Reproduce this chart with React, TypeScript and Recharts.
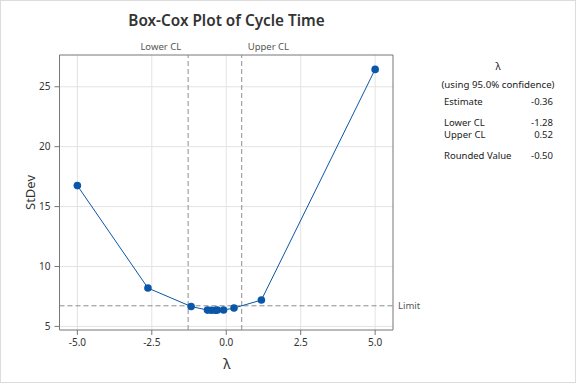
import { CartesianGrid, Line, LineChart, ReferenceArea, ReferenceLine, XAxis, YAxis } from 'recharts';

// Box-Cox search points
const lambdas = [-5, -2.63, -1.18, -0.63, -0.5, -0.37, -0.3, -0.09, 0.26, 1.18, 5];
const stdevs = [16.75, 8.2, 6.66, 6.36, 6.35, 6.35, 6.36, 6.37, 6.53, 7.2, 26.45];

const xTicks = [-5, -2.5, 0, 2.5, 5];
const yTicks = [5, 10, 15, 20, 25];

const lowerCL = -1.28;
const upperCL = 0.52;
const limit = 6.72;

const panelRows = [
  { label: 'Estimate', value: '-0.36', y: 101 },
  { label: 'Lower CL', value: '-1.28', y: 122 },
  { label: 'Upper CL', value: '0.52', y: 134 },
  { label: 'Rounded Value', value: '-0.50', y: 155 },
];

const data = lambdas.map((lambda, i) => ({ lambda, stdev: stdevs[i] }));

const FONT = '"Noto Sans", "Open Sans", sans-serif';
const BLUE = '#0a56a8';
const DASH = '#8c8c8c';

function clLabel(text: string, side: 'left' | 'right') {
  return (props: any) => {
    const { x, y } = props.viewBox;
    return (
      <text
        x={side === 'left' ? x - 7 : x + 6}
        y={y - 5}
        textAnchor={side === 'left' ? 'end' : 'start'}
        fontSize={9.5}
        fill="#555"
        fontFamily={FONT}
      >
        {text}
      </text>
    );
  };
}

export default function App() {
  return (
    <div style={{ position: 'fixed', left: 0, top: 0, width: 576, height: 384, background: '#fff', fontFamily: FONT }}>
      <div style={{ position: 'absolute', left: 0, top: 0, width: 574, height: 381, border: '1px solid #dcdcdc' }} />
      <LineChart
        width={576}
        height={384}
        data={data}
        margin={{ top: 55, right: 183, bottom: 24, left: 0 }}
        style={{ position: 'absolute', left: 0, top: 0 }}
      >
        <CartesianGrid stroke="#e3e3e3" verticalValues={xTicks} horizontalValues={yTicks} />
        <XAxis
          type="number"
          dataKey="lambda"
          domain={[-5.6, 5.6]}
          ticks={xTicks}
          tickFormatter={(v: number) => v.toFixed(1)}
          height={30}
          axisLine={false}
          tickSize={5}
          tickMargin={4}
          tick={{ fontSize: 10, fill: '#333', fontFamily: FONT }}
          tickLine={{ stroke: '#777' }}
        />
        <YAxis
          type="number"
          domain={[4.7, 27.65]}
          ticks={yTicks}
          width={59.5}
          axisLine={false}
          tickSize={5}
          tickMargin={4}
          tick={{ fontSize: 10, fill: '#333', fontFamily: FONT }}
          tickLine={{ stroke: '#777' }}
        />
        <ReferenceArea x1={-5.6} x2={5.6} y1={4.7} y2={27.65} fill="none" stroke="#777" strokeWidth={1} ifOverflow="visible" />
        <ReferenceLine x={lowerCL} stroke={DASH} strokeDasharray="5 3" label={clLabel('Lower CL', 'left')} />
        <ReferenceLine x={upperCL} stroke={DASH} strokeDasharray="5 3" label={clLabel('Upper CL', 'right')} />
        <ReferenceLine
          y={limit}
          stroke={DASH}
          strokeDasharray="5 3"
          label={{ value: 'Limit', position: 'right', offset: 5, fontSize: 9.5, fill: '#555', fontFamily: FONT }}
        />
        <Line
          type="linear"
          dataKey="stdev"
          stroke={BLUE}
          strokeWidth={1}
          dot={{ r: 3.8, fill: BLUE, stroke: BLUE, strokeWidth: 0 }}
          isAnimationActive={false}
        />
      </LineChart>
      <svg width={576} height={384} style={{ position: 'absolute', left: 0, top: 0, pointerEvents: 'none' }} fontFamily={FONT}>
        <text x={226.5} y={26} textAnchor="middle" fontSize={15.3} fontWeight={600} fill="#333">
          Box-Cox Plot of Cycle Time
        </text>
        <text x={30} y={192.5} textAnchor="middle" dominantBaseline="central" fontSize={13} fill="#333" transform="rotate(-90 30 192.5)">
          StDev
        </text>
        <text x={227} y={363} textAnchor="middle" dominantBaseline="central" fontSize={14} fill="#333">
          λ
        </text>
        <text x={498} y={66} textAnchor="middle" dominantBaseline="central" fontSize={10} fill="#222">
          λ
        </text>
        <text x={498} y={84} textAnchor="middle" dominantBaseline="central" fontSize={9.7} fill="#222">
          (using 95.0% confidence)
        </text>
        {panelRows.map((r) => (
          <g key={r.label}>
            <text x={444} y={r.y} dominantBaseline="central" fontSize={9.5} fill="#222">
              {r.label}
            </text>
            <text x={553} y={r.y} textAnchor="end" dominantBaseline="central" fontSize={9.5} fill="#222">
              {r.value}
            </text>
          </g>
        ))}
      </svg>
    </div>
  );
}
